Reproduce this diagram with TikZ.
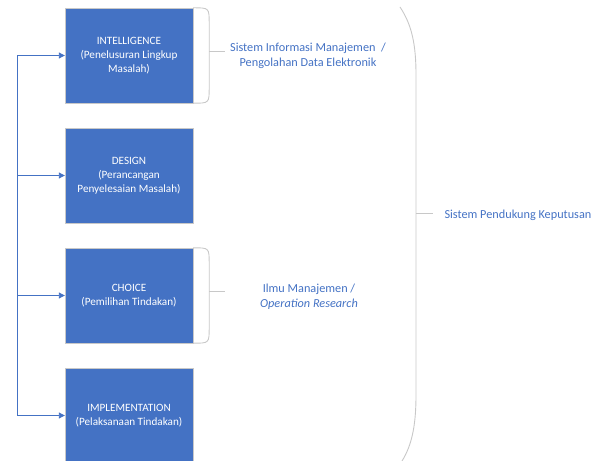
\documentclass[tikz,border=0pt]{standalone}
\usepackage{fontspec}
\setmainfont{Carlito}
\usetikzlibrary{arrows.meta, positioning, calc}
\definecolor{stepblue}{RGB}{68, 114, 196}
\definecolor{bracegray}{RGB}{200, 200, 200}

\begin{document}
\begin{tikzpicture}[x=1bp, y=-1bp,
  phase/.style={draw=bracegray, fill=stepblue, minimum width=128bp,
                minimum height=95bp, align=center, text=white, font=\fontsize{11.2}{14}\selectfont},
  arr/.style={-{Triangle[length=6bp, width=6bp]}, line width=0.9bp, stepblue},
  brace/.style={draw=bracegray, line width=0.9bp},
  lbl/.style={text=stepblue, align=center, font=\fontsize{12.3}{15}\selectfont}
]
  \useasboundingbox (0,0) rectangle (607,461);

  % the four phases
  \node[phase] (intel) at (129,55.5) {INTELLIGENCE\\(Penelusuran Lingkup\\Masalah)};
  \node[phase] (design) at (129,175.5) {DESIGN\\(Perancangan\\Penyelesaian Masalah)};
  \node[phase] (choice) at (129,295.5) {CHOICE\\(Pemilihan Tindakan)};
  \node[phase] (impl) at (129,415.5) {IMPLEMENTATION\\(Pelaksanaan Tindakan)};

  % feedback line on the left
  \coordinate (top) at (17,55.5);
  \coordinate (bot) at (17,415.5);
  \draw[line width=0.9bp, stepblue] (top) -- (bot);
  \draw[arr] (top) -- (intel.west);
  \draw[arr] (17,175.5) -- (design.west);
  \draw[arr] (17,295.5) -- (choice.west);
  \draw[arr] (bot) -- (impl.west);

  % small braces
  \draw[brace] (intel.north east) .. controls ($(intel.north east)+(16,0)$) .. ($(intel.north east)+(16,16)$)
    -- ($(intel.south east)+(16,-16)$) .. controls ($(intel.south east)+(16,0)$) .. (intel.south east);
  \draw[brace] ($(intel.east)+(16,-4)$) -- ($(intel.east)+(32,-4)$);
  \draw[brace] (choice.north east) .. controls ($(choice.north east)+(16,0)$) .. ($(choice.north east)+(16,16)$)
    -- ($(choice.south east)+(16,-16)$) .. controls ($(choice.south east)+(16,0)$) .. (choice.south east);
  \draw[brace] ($(choice.east)+(16,-4)$) -- ($(choice.east)+(32,-4)$);

  \node[lbl] (sim) at (308,56) {Sistem Informasi Manajemen\ \ /\\Pengolahan Data Elektronik};
  \node[lbl] (ilmu) at (309,297) {Ilmu Manajemen /\\\textit{Operation Research}};

  % big brace
  \draw[brace] (400,7) .. controls (412,25) and (416,45) .. (416,75) -- (416,395)
    .. controls (416,425) and (412,445) .. (402,461);
  \draw[brace] (416,213) -- (433,213);
  \node[lbl, anchor=west] (spk) at (441,215) {Sistem Pendukung Keputusan};
\end{tikzpicture}
\end{document}
